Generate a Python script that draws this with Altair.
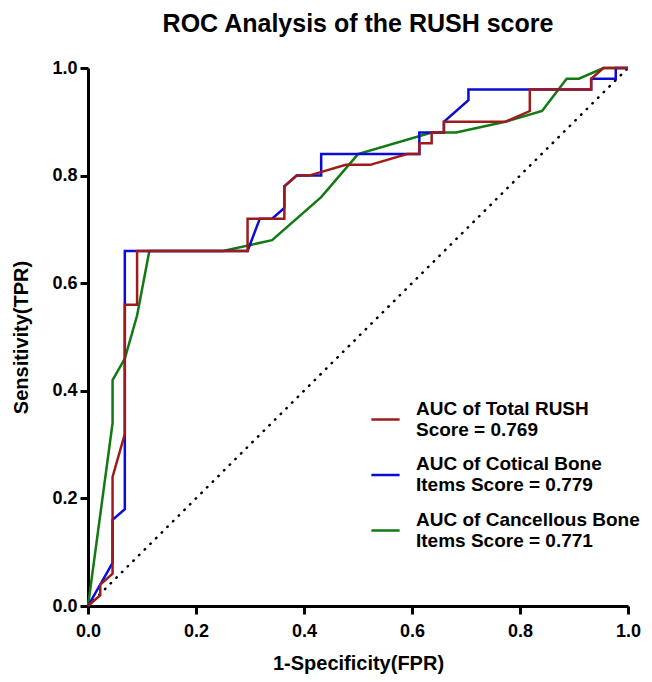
import altair as alt
import pandas as pd

# ---- data ----
series_names = [
    "AUC of Total RUSH\nScore = 0.769",
    "AUC of Cotical Bone\nItems Score = 0.779",
    "AUC of Cancellous Bone\nItems Score = 0.771",
]
series_colors = ["#9e1b1b", "#0b0bd6", "#127a12"]

total_fpr = [0, 0.0227, 0.0227, 0.0455, 0.0455, 0.0682, 0.0682, 0.0909, 0.0909, 0.2955,
             0.2955, 0.3636, 0.3636, 0.3864, 0.4091, 0.4773, 0.5227, 0.5909, 0.6136, 0.6136,
             0.6364, 0.6364, 0.6591, 0.6591, 0.7727, 0.8182, 0.8182, 0.9318, 0.9318, 0.9545, 1.0]
total_tpr = [0, 0.02, 0.04, 0.06, 0.24, 0.32, 0.56, 0.56, 0.66, 0.66,
             0.72, 0.72, 0.78, 0.80, 0.80, 0.82, 0.82, 0.84, 0.84, 0.86,
             0.86, 0.88, 0.88, 0.90, 0.90, 0.92, 0.96, 0.96, 0.98, 1.0, 1.0]

cortical_fpr = [0, 0.0455, 0.0455, 0.0682, 0.0682, 0.2955, 0.3182, 0.3409, 0.3636, 0.3636,
                0.3864, 0.4318, 0.4318, 0.6136, 0.6136, 0.6591, 0.6591, 0.7045, 0.7045, 0.9318,
                0.9318, 0.9773, 0.9773, 1.0]
cortical_tpr = [0, 0.08, 0.16, 0.18, 0.66, 0.66, 0.72, 0.72, 0.74, 0.78,
                0.80, 0.80, 0.84, 0.84, 0.88, 0.88, 0.90, 0.94, 0.96, 0.96,
                0.98, 0.98, 1.0, 1.0]

cancellous_fpr = [0, 0.0455, 0.0455, 0.0682, 0.0909, 0.1136, 0.25, 0.3409, 0.4318, 0.5,
                  0.6364, 0.6818, 0.7727, 0.8409, 0.8864, 0.9091, 0.9545, 1.0]
cancellous_tpr = [0, 0.34, 0.42, 0.46, 0.54, 0.66, 0.66, 0.68, 0.76, 0.84,
                  0.88, 0.88, 0.90, 0.92, 0.98, 0.98, 1.0, 1.0]

diag_x = [0, 1]
diag_y = [0, 1]

tick_values = [0, 0.2, 0.4, 0.6, 0.8, 1.0]

FONT = "Liberation Sans"


def make_df(name, fx, ty):
    return pd.DataFrame({"series": name, "fpr": fx, "tpr": ty, "order": list(range(len(fx)))})


dfs = {
    series_names[0]: make_df(series_names[0], total_fpr, total_tpr),
    series_names[1]: make_df(series_names[1], cortical_fpr, cortical_tpr),
    series_names[2]: make_df(series_names[2], cancellous_fpr, cancellous_tpr),
}
diag_df = pd.DataFrame({"fpr": diag_x, "tpr": diag_y})

x_enc = alt.X(
    "fpr:Q",
    scale=alt.Scale(domain=[0, 1], nice=False),
    axis=alt.Axis(values=tick_values, format=".1f", title="1-Specificity(FPR)",
                  labelFlush=False, labelPadding=8, titlePadding=13),
)
y_enc = alt.Y(
    "tpr:Q",
    scale=alt.Scale(domain=[0, 1], nice=False),
    axis=alt.Axis(values=tick_values, format=".1f", title="Sensitivity(TPR)",
                  labelFlush=False, labelPadding=3, titlePadding=20),
)
color_enc = alt.Color(
    "series:N",
    scale=alt.Scale(domain=series_names, range=series_colors),
    legend=alt.Legend(
        title=None,
        orient="none",
        legendX=282,
        legendY=336,
        symbolType="stroke",
        symbolSize=800,
        symbolStrokeWidth=2.5,
        labelFont=FONT,
        labelFontWeight="bold",
        labelFontSize=19,
        labelColor="black",
        labelBaseline="line-bottom",
        labelExpr="split(datum.label, '\\n')",
        labelLimit=400,
        labelOffset=15,
        rowPadding=14.5,
    ),
)

diag = alt.Chart(diag_df).mark_line(
    color="black", strokeDash=[0.5, 7.5], strokeCap="round", strokeWidth=2.5
).encode(x=x_enc, y=y_enc)

layers = [diag]
for name in reversed(series_names):
    layers.append(
        alt.Chart(dfs[name]).mark_line(strokeWidth=2.5).encode(
            x=x_enc, y=y_enc, color=color_enc, order="order:Q"
        )
    )

chart = alt.layer(*layers).properties(
    width=540,
    height=538,
    padding={"left": 80, "top": 60, "right": 16, "bottom": 68},
    autosize=alt.AutoSizeParams(type="none"),
    title=alt.TitleParams(
        "ROC Analysis of the RUSH score",
        font=FONT, fontSize=25, fontWeight="bold", color="black",
        anchor="middle", offset=22,
    ),
).configure_view(stroke=None).configure_axis(
    grid=False,
    domainColor="black",
    domainWidth=3,
    tickColor="black",
    tickWidth=3,
    tickSize=8,
    labelFont=FONT,
    labelFontWeight="bold",
    labelFontSize=18,
    labelColor="black",
    titleFont=FONT,
    titleFontWeight="bold",
    titleFontSize=20,
    titleColor="black",
)

chart.save("out.html", embed_options={"renderer": "svg", "actions": False})
